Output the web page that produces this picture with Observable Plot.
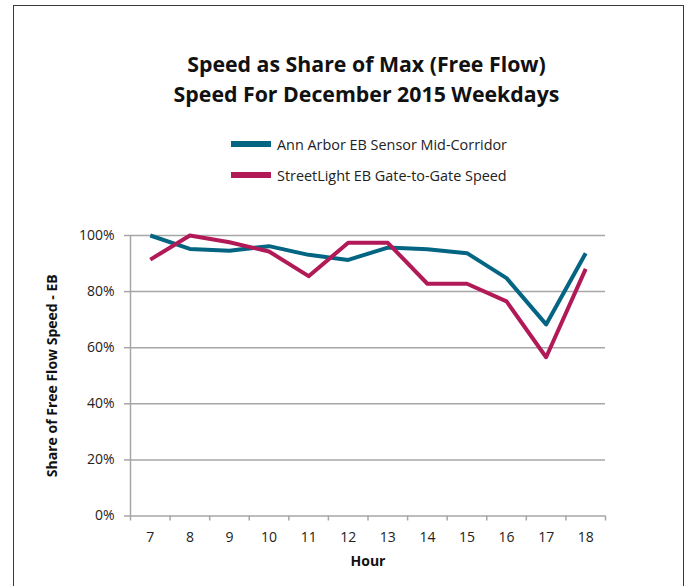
<!DOCTYPE html>
<html>
<head>
<meta charset="utf-8">
<script src="https://cdn.jsdelivr.net/npm/d3@7"></script>
<script src="https://cdn.jsdelivr.net/npm/@observablehq/plot@0.6"></script>
<style>
  html, body { margin: 0; padding: 0; background: #fff; }
  #wrap { position: relative; width: 689px; height: 586px; overflow: hidden; font-family: "Open Sans", sans-serif; color: #1a1a1a; }
  #frame { position: absolute; left: 13px; top: 5px; width: 671px; height: 600px; border: 1.5px solid #3a3a3a; box-sizing: border-box; }
  #title { position: absolute; left: 0; width: 733px; top: 49px; text-align: center; font-weight: bold; font-size: 21.3px; line-height: 29.5px; color: #111; }
  .leg { position: absolute; left: 231px; height: 20px; display: flex; align-items: center; font-size: 14.4px; color: #222; }
  .leg .sw { width: 40px; height: 6px; margin-right: 6px; }
  #chart { position: absolute; left: 0; top: 200px; }
</style>
</head>
<body>
<div id="wrap">
  <div id="frame"></div>
  <div id="title"></div>
  <div id="legend"></div>
  <div id="chart"></div>
</div>
<script>
const hours = [7, 8, 9, 10, 11, 12, 13, 14, 15, 16, 17, 18];
const seriesNames = ["Ann Arbor EB Sensor Mid-Corridor", "StreetLight EB Gate-to-Gate Speed"];
const seriesColors = ["#046582", "#b11a57"];
const annArbor = [1.00, 0.952, 0.946, 0.962, 0.931, 0.913, 0.957, 0.951, 0.937, 0.848, 0.683, 0.937];
const streetLight = [0.914, 1.00, 0.976, 0.943, 0.855, 0.974, 0.974, 0.828, 0.828, 0.765, 0.566, 0.881];
const yTicks = [0, 0.2, 0.4, 0.6, 0.8, 1.0];
const titleLines = ["Speed as Share of Max (Free Flow)", "Speed For December 2015 Weekdays"];
const xLabel = "Hour";
const yLabel = "Share of Free Flow Speed - EB";

const data = [
  ...hours.map((h, i) => ({hour: h, value: annArbor[i], series: seriesNames[0]})),
  ...hours.map((h, i) => ({hour: h, value: streetLight[i], series: seriesNames[1]}))
];
const boundaries = [...hours.map(h => h - 0.5), hours[hours.length - 1] + 0.5];

// title
const titleEl = document.getElementById("title");
titleLines.forEach(t => { const d = document.createElement("div"); d.textContent = t; titleEl.appendChild(d); });

// legend
const legend = document.getElementById("legend");
seriesNames.forEach((name, i) => {
  const row = document.createElement("div");
  row.className = "leg";
  row.style.top = (134 + i * 31) + "px";
  const sw = document.createElement("div");
  sw.className = "sw";
  sw.style.background = seriesColors[i];
  const label = document.createElement("span");
  label.textContent = name;
  row.appendChild(sw);
  row.appendChild(label);
  legend.appendChild(row);
});

const chart = Plot.plot({
  width: 689,
  height: 386,
  marginLeft: 130,
  marginRight: 84,
  marginTop: 35,
  marginBottom: 70.5,
  style: {fontFamily: "'Open Sans', sans-serif", fontSize: "14px", color: "#222", background: "transparent", overflow: "visible"},
  x: {type: "linear", domain: [boundaries[0], boundaries[boundaries.length - 1]]},
  y: {domain: [0, 1]},
  color: {domain: seriesNames, range: seriesColors},
  marks: [
    Plot.ruleY(yTicks, {stroke: "#a6a6a6", strokeWidth: 1.5}),
    Plot.ruleX([boundaries[0]], {stroke: "#a6a6a6", strokeWidth: 1.5}),
    Plot.axisY({ticks: yTicks, tickFormat: d3.format(".0%"), tickSize: 6, tickPadding: 10, stroke: "#a6a6a6", strokeWidth: 1.5, label: null, fill: "#222"}),
    Plot.axisX({ticks: boundaries, tickFormat: () => "", tickSize: 5, stroke: "#a6a6a6", strokeWidth: 1.5, label: null}),
    Plot.axisX({ticks: hours, tickSize: 0, tickPadding: 16, label: null, fill: "#222"}),
    Plot.text([xLabel], {text: d => d, frameAnchor: "bottom", dy: 46, lineAnchor: "middle", fontWeight: "bold", fontSize: 14, fill: "#111"}),
    Plot.text([yLabel], {text: d => d, frameAnchor: "left", rotate: -90, dx: -78, textAnchor: "middle", lineAnchor: "middle", fontWeight: "bold", fontSize: 14, fill: "#111"}),
    Plot.lineY(data, {x: "hour", y: "value", stroke: "series", z: "series", strokeWidth: 4, strokeLinecap: "butt", strokeLinejoin: "round"})
  ]
});
document.getElementById("chart").appendChild(chart);
</script>
</body>
</html>
